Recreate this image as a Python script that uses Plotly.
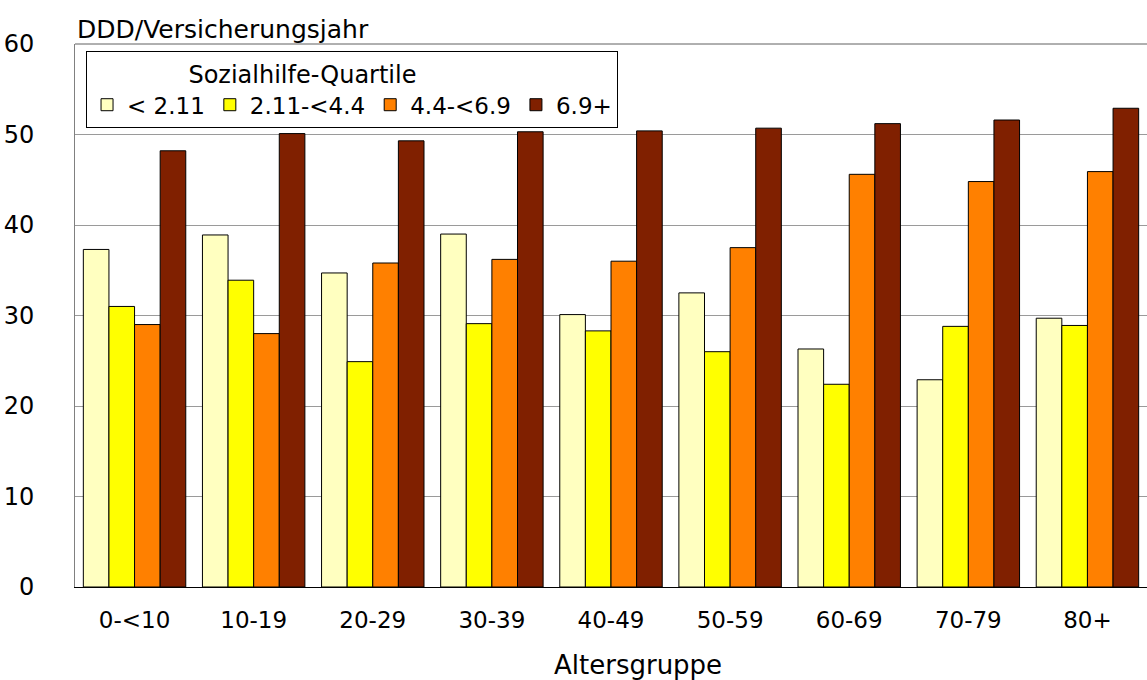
import plotly.graph_objects as go

# Altersgruppen (x-Achse)
age_groups = ["0-<10", "10-19", "20-29", "30-39", "40-49", "50-59", "60-69", "70-79", "80+"]

# DDD pro Versicherungsjahr je Sozialhilfe-Quartil
quartile_names = ["< 2.11", "2.11-<4.4", "4.4-<6.9", "6.9+"]
q1_values = [37.3, 38.9, 34.7, 39.0, 30.1, 32.5, 26.3, 22.9, 29.7]
q2_values = [31.0, 33.9, 24.9, 29.1, 28.3, 26.0, 22.4, 28.8, 28.9]
q3_values = [29.0, 28.0, 35.8, 36.2, 36.0, 37.5, 45.6, 44.8, 45.9]
q4_values = [48.2, 50.1, 49.3, 50.3, 50.4, 50.7, 51.2, 51.6, 52.9]

y_ticks = [0, 10, 20, 30, 40, 50, 60]

colors = ["#FFFFC0", "#FFFF00", "#FF8000", "#802000"]
series = [q1_values, q2_values, q3_values, q4_values]

FONT = "DejaVu Sans, Liberation Sans, Arial, sans-serif"
NBSP = "\u00a0"

fig = go.Figure()
for name, vals, col in zip(quartile_names, series, colors):
    fig.add_trace(go.Bar(
        x=age_groups, y=vals, name=name,
        marker=dict(color=col, line=dict(color="#000000", width=1)),
    ))

fig.update_layout(
    width=1147, height=680,
    margin=dict(l=75, r=0, t=44, b=93),
    paper_bgcolor="white", plot_bgcolor="white",
    barmode="group", bargap=0.14, bargroupgap=0,
    font=dict(family=FONT, size=24, color="black"),
    showlegend=True,
    legend=dict(
        orientation="h",
        x=0.0103, y=0.987, xanchor="left", yanchor="top",
        bgcolor="white", bordercolor="black", borderwidth=1,
        font=dict(family=FONT, size=23, color="black"),
        # title centred over the entries, shifted left by trailing padding
        title=dict(text="Sozialhilfe-Quartile" + NBSP * 13, side="top center",
                   font=dict(family=FONT, size=24, color="black")),
        traceorder="normal",
        itemwidth=30,
        tracegroupgap=0,
    ),
    xaxis=dict(
        showline=True, linecolor="#000000", linewidth=1,
        ticks="", showgrid=False,
        tickfont=dict(family=FONT, size=23),
        ticklabelstandoff=12,
    ),
    yaxis=dict(
        range=[0, 60], tickvals=y_ticks,
        showline=True, linecolor="#808080", linewidth=1, mirror=True,
        showgrid=True, gridcolor="#9a9a9a", gridwidth=1,
        ticks="", zeroline=False,
        tickfont=dict(family=FONT, size=24),
        ticklabelstandoff=35,
    ),
    shapes=[dict(type="line", xref="paper", yref="paper", x0=0, x1=1, y0=1, y1=1,
                 line=dict(color="#606060", width=1))],
    annotations=[
        dict(text="DDD/Versicherungsjahr", xref="paper", yref="paper", x=0, y=1,
             xanchor="left", yanchor="bottom", showarrow=False, yshift=-2,
             font=dict(family=FONT, size=25)),
        dict(text="Altersgruppe", xref="paper", yref="paper", x=(638 - 75) / 1072, y=0,
             xanchor="center", yanchor="middle", showarrow=False, yshift=-78,
             font=dict(family=FONT, size=26)),
    ],
)

fig.write_html("out.html")
